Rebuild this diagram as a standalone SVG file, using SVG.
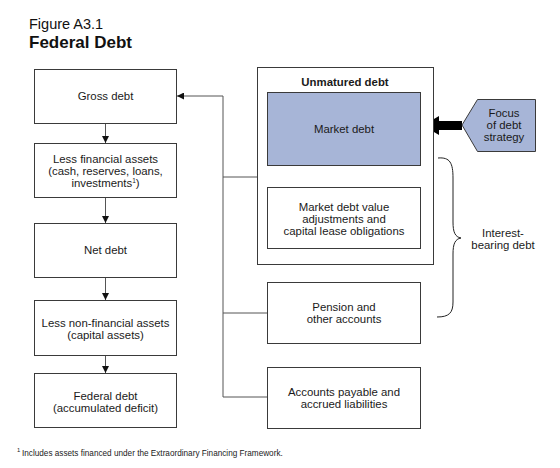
<svg xmlns="http://www.w3.org/2000/svg" width="560" height="468" viewBox="0 0 560 468">
<defs>
<style>
.box{fill:#fff;stroke:#3a3a3a;stroke-width:1}
.blue{fill:#a7b5d7;stroke:#3a3a3a;stroke-width:1}
.t{font-family:"Liberation Sans",Arial,sans-serif;font-size:11.4px;fill:#1a1a1a;text-anchor:middle}
.conn{fill:none;stroke:#555;stroke-width:1}
</style>
<marker id="ah" viewBox="0 0 10 10" refX="10" refY="5" markerWidth="7" markerHeight="7" markerUnits="userSpaceOnUse" orient="auto">
<path d="M0,0 L10,5 L0,10 z" fill="#111"/>
</marker>
</defs>
<rect width="560" height="468" fill="#fff"/>
<text x="29" y="28.5" font-family="Liberation Sans,Arial,sans-serif" font-size="14.5" fill="#111">Figure A3.1</text>
<text x="29" y="47.5" font-family="Liberation Sans,Arial,sans-serif" font-size="17" font-weight="bold" fill="#111">Federal Debt</text>

<g id="connectors">
<line class="conn" x1="105.5" y1="123" x2="105.5" y2="143" marker-end="url(#ah)"/>
<line class="conn" x1="105.5" y1="197" x2="105.5" y2="223" marker-end="url(#ah)"/>
<line class="conn" x1="105.5" y1="277" x2="105.5" y2="300" marker-end="url(#ah)"/>
<line class="conn" x1="105.5" y1="355" x2="105.5" y2="373" marker-end="url(#ah)"/>
<path class="conn" d="M223,397 L223,96"/>
<line class="conn" x1="223" y1="96" x2="177" y2="96" marker-end="url(#ah)"/>
<line class="conn" x1="223" y1="177" x2="257" y2="177"/>
<line class="conn" x1="223" y1="313" x2="267" y2="313"/>
<line class="conn" x1="223" y1="397" x2="267" y2="397"/>
<path d="M462,121 L439,121 L439,116 L423,125.5 L439,135 L439,130 L462,130 z" fill="#000"/>
<path d="M438,158 C450,157 453,163 453,178 L453,222 C453,232 455,237 461,238 C455,239 453,244 453,254 L453,302 C453,313 449,317 437,317" fill="none" stroke="#222" stroke-width="1"/>
</g>

<g id="gross-debt">
<rect class="box" x="34.5" y="69.5" width="142" height="54"/>
<text class="t" x="105.5" y="100">Gross debt</text>
</g>
<g id="less-financial">
<rect class="box" x="34.5" y="143.5" width="142" height="54"/>
<text class="t" x="105.5" y="163">Less financial assets</text>
<text class="t" x="105.5" y="175">(cash, reserves, loans,</text>
<text class="t" x="105.5" y="187">investments<tspan font-size="6.5" dy="-4">1</tspan><tspan dy="4">)</tspan></text>
</g>
<g id="net-debt">
<rect class="box" x="34.5" y="223.5" width="142" height="54"/>
<text class="t" x="105.5" y="254">Net debt</text>
</g>
<g id="less-nonfinancial">
<rect class="box" x="34.5" y="300.5" width="142" height="55"/>
<text class="t" x="105.5" y="327">Less non-financial assets</text>
<text class="t" x="105.5" y="339">(capital assets)</text>
</g>
<g id="federal-debt">
<rect class="box" x="34.5" y="373.5" width="142" height="54"/>
<text class="t" x="105.5" y="400">Federal debt</text>
<text class="t" x="105.5" y="412">(accumulated deficit)</text>
</g>

<g id="unmatured-debt">
<rect class="box" x="257.5" y="67.5" width="176" height="197"/>
<text class="t" x="345" y="85.5" font-weight="bold" font-size="12.5">Unmatured debt</text>
</g>
<g id="market-debt">
<rect class="blue" x="267.5" y="92.5" width="153" height="73"/>
<text class="t" x="344" y="133">Market debt</text>
</g>
<g id="market-debt-adj">
<rect class="box" x="267.5" y="187.5" width="153" height="61"/>
<text class="t" x="344" y="211">Market debt value</text>
<text class="t" x="344" y="223">adjustments and</text>
<text class="t" x="344" y="235">capital lease obligations</text>
</g>
<g id="pension">
<rect class="box" x="267.5" y="282.5" width="153" height="61"/>
<text class="t" x="344" y="311">Pension and</text>
<text class="t" x="344" y="323">other accounts</text>
</g>
<g id="accounts-payable">
<rect class="box" x="267.5" y="367.5" width="153" height="61"/>
<text class="t" x="344" y="396">Accounts payable and</text>
<text class="t" x="344" y="408">accrued liabilities</text>
</g>
<g id="focus">
<path class="blue" d="M462,125 L477.5,99.5 L535.5,99.5 L535.5,151.5 L477.5,151.5 z"/>
<text class="t" x="504" y="117">Focus</text>
<text class="t" x="504" y="129">of debt</text>
<text class="t" x="504" y="141">strategy</text>
</g>
<g id="interest-bearing">
<text class="t" x="503" y="237">Interest-</text>
<text class="t" x="503" y="249">bearing debt</text>
</g>
<text x="17" y="452" font-family="Liberation Sans,Arial,sans-serif" font-size="5.8" fill="#222">1</text>
<text x="22" y="456" font-family="Liberation Sans,Arial,sans-serif" font-size="8.2" fill="#222">Includes assets financed under the Extraordinary Financing Framework.</text>
</svg>
